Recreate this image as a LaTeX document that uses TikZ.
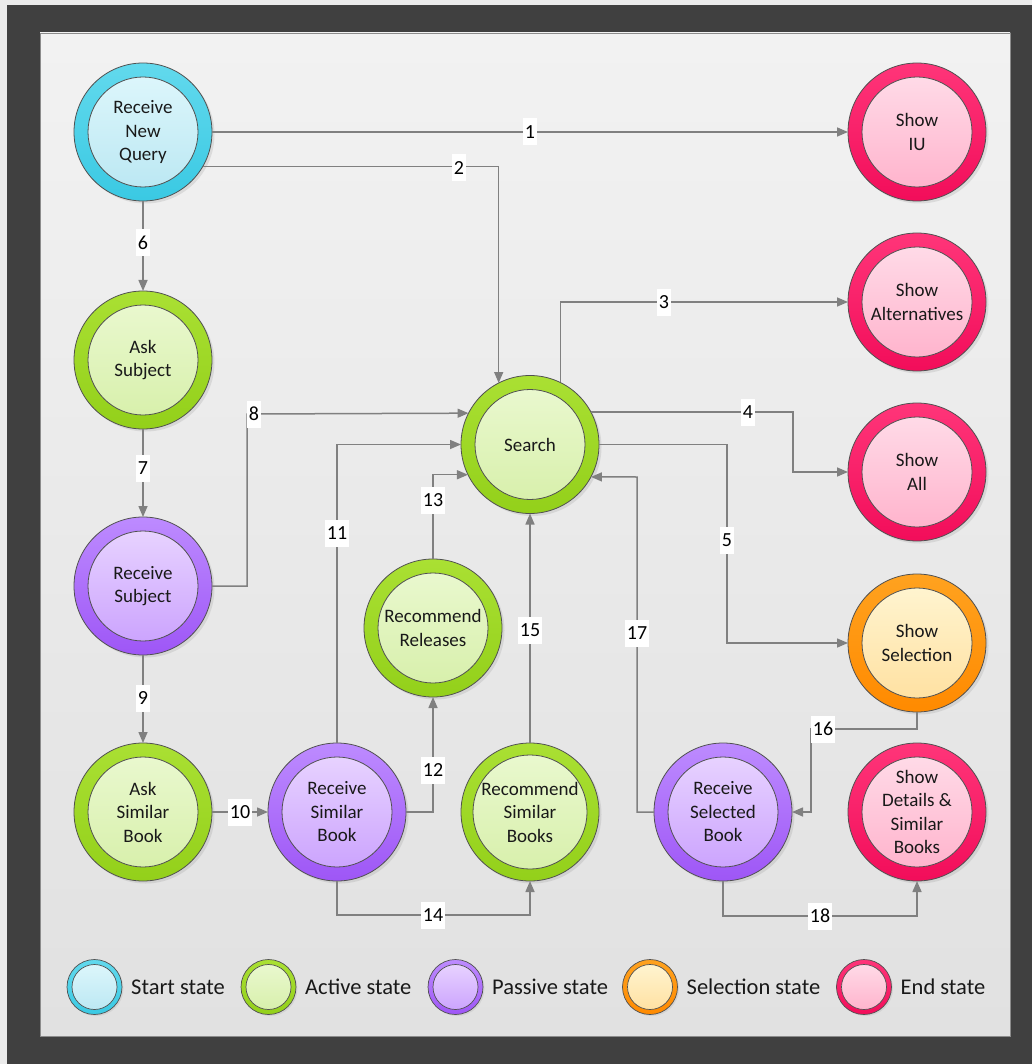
\documentclass[tikz,border=0pt]{standalone}
\usepackage{fontspec}
\setmainfont{Carlito}
\usetikzlibrary{arrows.meta,shadows}

% state colours: ring top/bottom, disk top/bottom
\definecolor{startRingT}{HTML}{62D9ED}\definecolor{startRingB}{HTML}{3AC9E3}
\definecolor{startInT}{HTML}{DCF6FB}\definecolor{startInB}{HTML}{BCE8F3}
\definecolor{activeRingT}{HTML}{AAE033}\definecolor{activeRingB}{HTML}{93D01A}
\definecolor{activeInT}{HTML}{E9F8CE}\definecolor{activeInB}{HTML}{D8F0AC}
\definecolor{passiveRingT}{HTML}{BD8BFF}\definecolor{passiveRingB}{HTML}{9E56F6}
\definecolor{passiveInT}{HTML}{E7D2FF}\definecolor{passiveInB}{HTML}{CCA4FE}
\definecolor{selectRingT}{HTML}{FFA21F}\definecolor{selectRingB}{HTML}{FF8A00}
\definecolor{selectInT}{HTML}{FFF4CF}\definecolor{selectInB}{HTML}{FFE1A2}
\definecolor{endRingT}{HTML}{FF3579}\definecolor{endRingB}{HTML}{F20D5A}
\definecolor{endInT}{HTML}{FFDAE7}\definecolor{endInB}{HTML}{FFB4CD}
\definecolor{linegray}{HTML}{808080}
\definecolor{rimgray}{HTML}{505050}
\definecolor{framedark}{HTML}{404040}
\definecolor{paneltop}{HTML}{F2F2F2}
\definecolor{panelbot}{HTML}{E1E1E1}

\tikzset{
  outerring/.style={circle, inner sep=0pt, outer sep=0pt, minimum size=138pt,
    draw=rimgray, line width=0.8pt, top color=#1RingT, bottom color=#1RingB,
    drop shadow={opacity=0.18, shadow xshift=2.5pt, shadow yshift=-2.5pt}},
  innerdisk/.style={circle, inner sep=0pt, minimum size=110pt,
    draw=rimgray, line width=0.8pt, top color=#1InT, bottom color=#1InB,
    align=center, text=black!90, font=\fontsize{19}{23.5}\selectfont},
  keyring/.style={circle, inner sep=0pt, outer sep=0pt, minimum size=55pt,
    draw=rimgray, line width=0.7pt, top color=#1RingT, bottom color=#1RingB,
    drop shadow={opacity=0.15, shadow xshift=1.5pt, shadow yshift=-1.5pt}},
  keydisk/.style={circle, inner sep=0pt, minimum size=45pt,
    draw=rimgray, line width=0.7pt, top color=#1InT, bottom color=#1InB},
  keytext/.style={anchor=west, inner sep=0pt, text=black!90,
    font=\fontsize{22.5}{22.5}\selectfont},
  conn/.style={draw=linegray, line width=1.5pt,
    -{Triangle[length=11pt,width=9pt]}},
  lab/.style={fill=white, inner xsep=1.5pt, inner ysep=0pt, minimum height=27pt,
    text=black, font=\fontsize{20}{20}\selectfont}
}

% a state: name, position, kind, caption
\newcommand\statecircle[4]{%
  \node[outerring=#3] (#1) at (#2) {};
  \node[innerdisk=#3] (#1-in) at (#1) {#4};
}
% a legend entry: name, position, kind, caption
\newcommand\keyentry[4]{%
  \node[keyring=#3] (#1) at (#2) {};
  \node[keydisk=#3] (#1-in) at (#1) {};
  \node[keytext] (#1-t) at ([xshift=9pt]#1.east) {#4};
}

\begin{document}
\begin{tikzpicture}[x=1pt,y=-1pt]
\useasboundingbox (0,0) rectangle (1032,1064);
% frame and panel
\fill[black!8] (0,0) rectangle (1032,1064);
\fill[framedark] (7,5) rectangle (1032,1064);
\shade[top color=paneltop, bottom color=panelbot, draw=black!45, line width=0.6pt]
  (40,33) rectangle (1010,1036);

% states
\statecircle{rnq}{143,132}{start}{Receive\\New\\Query}
\statecircle{showiu}{917,132}{end}{Show\\IU}
\statecircle{showalt}{917,302}{end}{Show\\Alternatives}
\statecircle{asksub}{143,360}{active}{Ask\\Subject}
\statecircle{search}{530,444.5}{active}{Search}
\statecircle{showall}{917,472}{end}{Show\\All}
\statecircle{recsub}{143,586}{passive}{Receive\\Subject}
\statecircle{recrel}{433,628}{active}{Recommend\\Releases}
\statecircle{showsel}{917,643}{select}{Show\\Selection}
\statecircle{asksim}{143,812}{active}{Ask\\Similar\\Book}
\statecircle{recsim}{337,812}{passive}{Receive\\Similar\\Book}
\statecircle{recsimb}{530,812}{active}{Recommend\\Similar\\Books}
\statecircle{recselb}{723,812}{passive}{Receive\\Selected\\Book}
\statecircle{showdet}{917,812}{end}{Show\\Details \&\\Similar\\Books}

% transitions
\draw[conn] (rnq.east) -- (showiu.west);
\draw[conn] (rnq.-30.5) -| (search.117.6);
\draw[conn] (search.64.2) |- (showalt.west);
\draw[conn] (search.28.1) -| (793,472) -- (showall.west);
\draw[conn] (search.east) -| (727,643) -- (showsel.west);
\draw[conn] (rnq.south) -- (asksub.north);
\draw[conn] (asksub.south) -- (recsub.north);
\draw[conn] (recsub.east) -| (247,414) -- (search.153.8);
\draw[conn] (recsub.south) -- (asksim.north);
\draw[conn] (asksim.east) -- (recsim.west);
\draw[conn] (recsim.north) |- (search.west);
\draw[conn] (recsim.east) -| (recrel.south);
\draw[conn] (recrel.north) |- (search.206.2);
\draw[conn] (recsim.south) -- (337,915) -| (recsimb.south);
\draw[conn] (recsimb.north) -- (search.south);
\draw[conn] (showsel.south) |- (811,729) |- (recselb.east);
\draw[conn] (recselb.west) -| (637,477) -- (search.-28.1);
\draw[conn] (recselb.south) -- (723,916) -| (showdet.south);

% transition numbers
\node[lab] (n1) at (530,132) {1};
\node[lab] (n2) at (459,168) {2};
\node[lab] (n3) at (664,302) {3};
\node[lab] (n4) at (748,412) {4};
\node[lab] (n5) at (727,540) {5};
\node[lab] (n6) at (143,243) {6};
\node[lab] (n7) at (143,468) {7};
\node[lab] (n8) at (254,414) {8};
\node[lab] (n9) at (143,698) {9};
\node[lab] (n10) at (240,812) {10};
\node[lab] (n11) at (337,533) {11};
\node[lab] (n12) at (433,770) {12};
\node[lab] (n13) at (433,500) {13};
\node[lab] (n14) at (433,915) {14};
\node[lab] (n15) at (530,630) {15};
\node[lab] (n16) at (823,729) {16};
\node[lab] (n17) at (637,633) {17};
\node[lab] (n18) at (820,916) {18};

% legend
\keyentry{kstart}{94.5,987}{start}{Start state}
\keyentry{kactive}{268.5,987}{active}{Active state}
\keyentry{kpassive}{455.5,987}{passive}{Passive state}
\keyentry{kselect}{650,987}{select}{Selection state}
\keyentry{kend}{864,987}{end}{End state}
\end{tikzpicture}
\end{document}
